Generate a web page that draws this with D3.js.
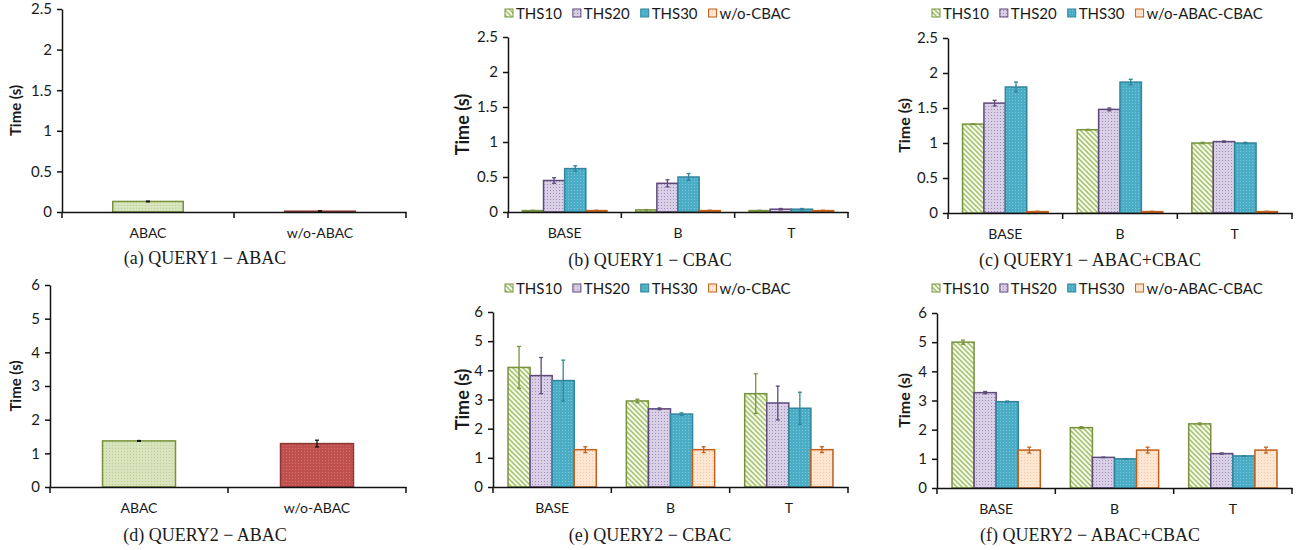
<!DOCTYPE html>
<html>
<head>
<meta charset="utf-8">
<script src="https://cdn.jsdelivr.net/npm/d3@7"></script>
<style>
  body { margin: 0; background: #fff; }
  text { font-family: Lato, "Open Sans", sans-serif; fill: #1a1a1a; }
  .cap { font-family: "Liberation Serif", "Times New Roman", serif; }
</style>
</head>
<body>
<svg id="fig" width="1301" height="550"></svg>
<script>
// categories
const groups = ["BASE", "B", "T"];
const abacCats = ["ABAC", "w/o-ABAC"];
const seriesCbac = ["THS10", "THS20", "THS30", "w/o-CBAC"];
const seriesBoth = ["THS10", "THS20", "THS30", "w/o-ABAC-CBAC"];

// y ticks
const yTicksQ1 = [0, 0.5, 1, 1.5, 2, 2.5];
const yTicksQ2 = [0, 1, 2, 3, 4, 5, 6];

// QUERY1 - ABAC
const q1Abac = [0.13, 0.01];
const q1AbacErr = [0.005, 0.005];
// QUERY2 - ABAC
const q2Abac = [1.37, 1.29];
const q2AbacErr = [0.01, 0.1];

// one row per series (THS10, THS20, THS30, w/o), one column per group (BASE, B, T)
const q1Cbac = [[0.02, 0.03, 0.02], [0.45, 0.41, 0.04], [0.62, 0.50, 0.04], [0.02, 0.02, 0.02]];
const q1CbacErr = [[0.005, 0.005, 0.005], [0.04, 0.05, 0.01], [0.04, 0.05, 0.01], [0.005, 0.005, 0.005]];
const q1Both = [[1.27, 1.19, 1.00], [1.57, 1.48, 1.02], [1.80, 1.87, 1.00], [0.02, 0.02, 0.02]];
const q1BothErr = [[0.005, 0.005, 0.01], [0.04, 0.02, 0.01], [0.07, 0.04, 0.01], [0.005, 0.005, 0.005]];
const q2Cbac = [[4.10, 2.95, 3.20], [3.82, 2.68, 2.88], [3.65, 2.50, 2.70], [1.28, 1.28, 1.28]];
const q2CbacErr = [[0.72, 0.06, 0.68], [0.62, 0.03, 0.58], [0.70, 0.04, 0.55], [0.10, 0.10, 0.10]];
const q2Both = [[5.00, 2.07, 2.20], [3.27, 1.05, 1.18], [2.96, 1.00, 1.10], [1.30, 1.30, 1.30]];
const q2BothErr = [[0.07, 0.03, 0.03], [0.04, 0.01, 0.02], [0.02, 0.01, 0.01], [0.10, 0.10, 0.10]];

const svg = d3.select("#fig");
const defs = svg.append("defs");

// patterns like the excel fills
function dots(id, bg, dot) {
  const p = defs.append("pattern").attr("id", id)
    .attr("patternUnits", "userSpaceOnUse").attr("width", 3).attr("height", 3);
  p.append("rect").attr("width", 3).attr("height", 3).attr("fill", bg);
  p.append("rect").attr("x", 1).attr("y", 1).attr("width", 1).attr("height", 1).attr("fill", dot);
}
function stripes(id, bg, line) {
  const p = defs.append("pattern").attr("id", id)
    .attr("patternUnits", "userSpaceOnUse").attr("width", 5).attr("height", 5);
  p.append("rect").attr("width", 5).attr("height", 5).attr("fill", bg);
  p.append("path").attr("d", "M0,0L5,5M-2.5,2.5L2.5,7.5M2.5,-2.5L7.5,2.5")
    .attr("stroke", line).attr("stroke-width", 1.5);
}
stripes("pThs10", "#f5f9ec", "#a3c16a");
dots("pThs20", "#d9d0e6", "#a08cbf");
dots("pThs30", "#4bacc6", "#7cc5d8");
dots("pWo", "#fde6d2", "#f7c9a3");
dots("pAbac", "#d7e4bd", "#bcd18f");
dots("pWoAbac", "#c0504d", "#d2716e");

const grpFill = ["url(#pThs10)", "url(#pThs20)", "url(#pThs30)", "url(#pWo)"];
const grpStroke = ["#77933c", "#5f497a", "#31859c", "#c0601b"];
const simpleFill = ["url(#pAbac)", "url(#pWoAbac)"];
const simpleStroke = ["#77933c", "#8c3836"];

const panels = [
  { kind: "simple", x0: 62, x1: 406, yTop: 9, y0: 212, max: 2.5, ticks: yTicksQ1, vals: q1Abac, errs: q1AbacErr,
    titleX: 15, titleSize: 15, caption: "(a) QUERY1 − ABAC", capX: 205, capY: 264 },
  { kind: "group", x0: 508, x1: 848, yTop: 37, y0: 212, max: 2.5, ticks: yTicksQ1, series: seriesCbac, vals: q1Cbac, errs: q1CbacErr,
    legendX: 505, legendY: 13, titleX: 462, titleSize: 18, caption: "(b) QUERY1 − CBAC", capX: 650, capY: 266 },
  { kind: "group", x0: 948, x1: 1292, yTop: 38, y0: 213, max: 2.5, ticks: yTicksQ1, series: seriesBoth, vals: q1Both, errs: q1BothErr,
    legendX: 932, legendY: 13, titleX: 903, titleSize: 16, caption: "(c) QUERY1 − ABAC+CBAC", capX: 1090, capY: 266 },
  { kind: "simple", x0: 50, x1: 406, yTop: 285, y0: 487, max: 6, ticks: yTicksQ2, vals: q2Abac, errs: q2AbacErr,
    titleX: 15, titleSize: 15, caption: "(d) QUERY2 − ABAC", capX: 205, capY: 541 },
  { kind: "group", x0: 493, x1: 848, yTop: 312, y0: 487, max: 6, ticks: yTicksQ2, series: seriesCbac, vals: q2Cbac, errs: q2CbacErr,
    legendX: 505, legendY: 288, titleX: 462, titleSize: 18, caption: "(e) QUERY2 − CBAC", capX: 650, capY: 541 },
  { kind: "group", x0: 937, x1: 1292, yTop: 313, y0: 488, max: 6, ticks: yTicksQ2, series: seriesBoth, vals: q2Both, errs: q2BothErr,
    legendX: 932, legendY: 288, titleX: 903, titleSize: 16, caption: "(f) QUERY2 − ABAC+CBAC", capX: 1090, capY: 541 }
];

function errBar(g, cx, v, e, y, color) {
  g.append("line").attr("x1", cx).attr("x2", cx).attr("y1", y(v - e)).attr("y2", y(v + e))
    .attr("stroke", color).attr("stroke-width", 1.3);
  [v - e, v + e].forEach(t => {
    g.append("line").attr("x1", cx - 2).attr("x2", cx + 2).attr("y1", y(t)).attr("y2", y(t))
      .attr("stroke", color).attr("stroke-width", 1.3);
  });
}

function draw() {
  panels.forEach(p => {
    const g = svg.append("g");
    const y = d3.scaleLinear().domain([0, p.max]).range([p.y0, p.yTop]);
    const cats = p.kind === "simple" ? abacCats : groups;
    const x = d3.scaleBand().domain(cats).range([p.x0, p.x1]).padding(0);

    if (p.kind === "simple") {
      const xb = d3.scaleBand().domain(cats).range([p.x0, p.x1]).paddingInner(0.59).paddingOuter(0.295);
      cats.forEach((c, i) => {
        g.append("rect").attr("x", xb(c)).attr("y", y(p.vals[i]))
          .attr("width", xb.bandwidth()).attr("height", p.y0 - y(p.vals[i]))
          .attr("fill", simpleFill[i]).attr("stroke", simpleStroke[i]).attr("stroke-width", 1.5);
        errBar(g, xb(c) + xb.bandwidth() / 2, p.vals[i], p.errs[i], y, "#111");
      });
    } else {
      const xs = d3.scaleBand().domain(p.series).range([0, x.bandwidth()]).paddingInner(0).paddingOuter(0.68);
      groups.forEach((grp, j) => {
        p.series.forEach((s, i) => {
          const v = p.vals[i][j];
          const bx = x(grp) + xs(s);
          g.append("rect").attr("x", bx).attr("y", y(v))
            .attr("width", xs.bandwidth()).attr("height", p.y0 - y(v))
            .attr("fill", grpFill[i]).attr("stroke", grpStroke[i]).attr("stroke-width", 1.5);
          errBar(g, bx + xs.bandwidth() / 2, v, p.errs[i][j], y, grpStroke[i]);
        });
      });

      // legend
      let lx = p.legendX;
      p.series.forEach((s, i) => {
        g.append("rect").attr("x", lx).attr("y", p.legendY - 4).attr("width", 8).attr("height", 8)
          .attr("fill", grpFill[i]).attr("stroke", grpStroke[i]).attr("stroke-width", 1);
        const t = g.append("text").attr("x", lx + 11).attr("y", p.legendY + 5.5)
          .attr("font-size", "15px").text(s);
        lx += 11 + t.node().getComputedTextLength() + 11;
      });
    }

    // y axis
    const yAxis = g.append("g").attr("transform", `translate(${p.x0},0)`)
      .call(d3.axisLeft(y).tickValues(p.ticks).tickFormat(d => String(d)).tickSize(5).tickSizeOuter(0).tickPadding(5));
    yAxis.selectAll("path, line").attr("stroke", "#111").attr("stroke-width", 1.5);
    yAxis.selectAll("text").attr("font-size", "15px").attr("font-family", "Lato, sans-serif").attr("fill", "#1a1a1a");

    // x axis: labels under band centres, ticks on band edges
    const xAxis = g.append("g").attr("transform", `translate(0,${p.y0})`)
      .call(d3.axisBottom(x).tickSize(0).tickPadding(16));
    xAxis.select("path").attr("stroke", "#111").attr("stroke-width", 1.5);
    xAxis.selectAll("text").attr("font-size", "14px").attr("font-family", "Lato, sans-serif").attr("fill", "#1a1a1a");
    const edges = cats.map(c => x(c)).concat([x.range()[1]]);
    edges.forEach(ex => {
      g.append("line").attr("x1", ex).attr("x2", ex).attr("y1", p.y0).attr("y2", p.y0 + 6)
        .attr("stroke", "#111").attr("stroke-width", 1.5);
    });

    // axis title
    const ty = (p.y0 + p.yTop) / 2;
    g.append("text").attr("transform", `translate(${p.titleX},${ty}) rotate(-90)`)
      .attr("text-anchor", "middle").attr("dominant-baseline", "central")
      .attr("font-weight", "bold").attr("font-size", p.titleSize + "px").text("Time (s)");

    // caption
    g.append("text").attr("class", "cap").attr("x", p.capX).attr("y", p.capY)
      .attr("text-anchor", "middle").attr("font-size", "18px").text(p.caption);
  });
}

// measure legend text only once Lato is really in use
Promise.all([document.fonts.load("15px Lato"), document.fonts.load("bold 16px Lato")])
  .then(draw, draw);
</script>
</body>
</html>
